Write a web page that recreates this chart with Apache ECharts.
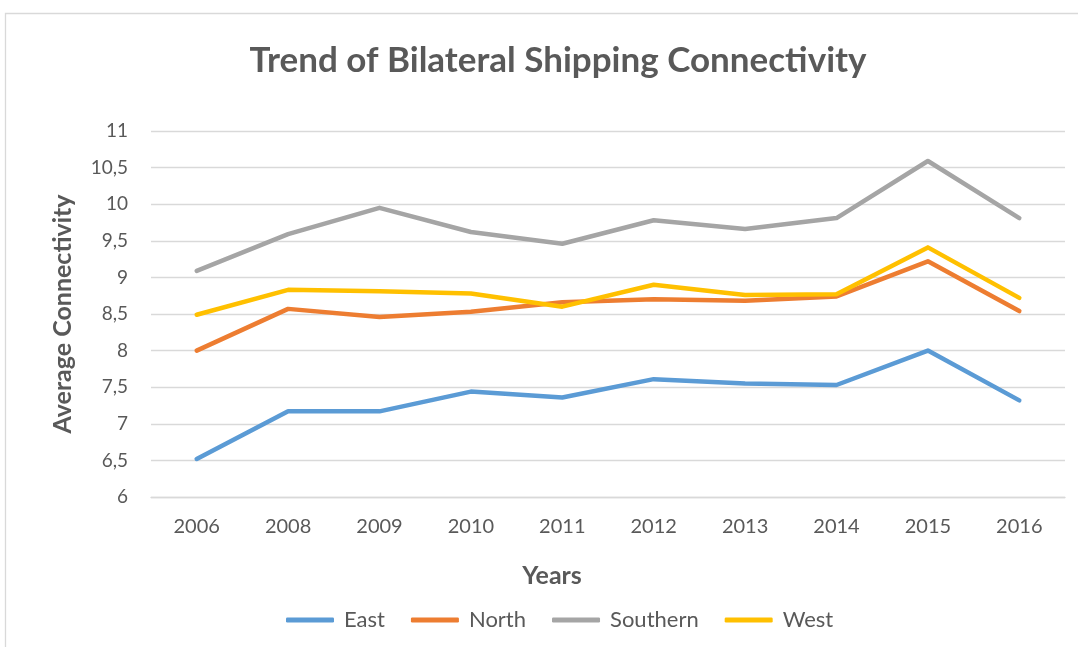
<!DOCTYPE html>
<html><head><meta charset="utf-8">
<script src="https://cdn.jsdelivr.net/npm/echarts@6/dist/echarts.min.js"></script>
<style>html,body{margin:0;padding:0;background:#fff}#c{width:1078px;height:647px}</style>
</head><body><div id="c"></div>
<script>
const years = ['2006','2008','2009','2010','2011','2012','2013','2014','2015','2016'];
const east = [6.52, 7.17, 7.17, 7.44, 7.36, 7.61, 7.55, 7.53, 8.0, 7.32];
const north = [8.0, 8.57, 8.46, 8.53, 8.66, 8.70, 8.68, 8.74, 9.22, 8.54];
const southern = [9.09, 9.59, 9.95, 9.62, 9.46, 9.78, 9.66, 9.81, 10.59, 9.81];
const west = [8.49, 8.83, 8.81, 8.78, 8.60, 8.90, 8.76, 8.77, 9.41, 8.72];
const seriesNames = ['East','North','Southern','West'];
const colors = ['#5B9BD5','#ED7D31','#A5A5A5','#FFC000'];
const FONT = 'Lato, "Open Sans", sans-serif';

const chart = echarts.init(document.getElementById('c'));
const mk = (name, data, color) => ({
  name, type: 'line', data, symbol: 'none', smooth: false,
  lineStyle: { width: 4.5, color, cap: 'round', join: 'round' },
  itemStyle: { color }
});
chart.setOption({
  animation: false,
  graphic: [{ type: 'rect', shape: { x: 5.5, y: 13.5, width: 1200, height: 800 },
    style: { fill: 'none', stroke: '#d9d9d9', lineWidth: 1.3 }, silent: true }],
  title: {
    text: 'Trend of Bilateral Shipping Connectivity', left: 553, textAlign: 'center', top: 38,
    textStyle: { fontFamily: FONT, fontSize: 35, fontWeight: 'bold', color: '#595959' }
  },
  legend: {
    data: seriesNames, top: 604, left: 281, itemWidth: 48, itemHeight: 5, itemGap: 26,
    icon: 'roundRect',
    textStyle: { fontFamily: FONT, fontSize: 22, color: '#595959', padding: [0,0,0,5] }
  },
  grid: { left: 151, right: 13, top: 131, bottom: 150 },
  xAxis: {
    type: 'category', data: years, boundaryGap: true,
    name: 'Years', nameLocation: 'middle', nameGap: 66,
    nameTextStyle: { fontFamily: FONT, fontSize: 25, fontWeight: 'bold', color: '#595959',
      padding: [0, 112, 0, 0] },
    axisLine: { show: true, lineStyle: { color: '#d9d9d9', width: 1.3 } },
    axisTick: { show: false },
    axisLabel: { fontFamily: FONT, fontSize: 20, color: '#595959', margin: 20 }
  },
  yAxis: {
    type: 'value', min: 6, max: 11, interval: 0.5,
    name: 'Average Connectivity', nameLocation: 'middle', nameGap: 76, nameRotate: 90,
    nameTextStyle: { fontFamily: FONT, fontSize: 25, fontWeight: 'bold', color: '#595959' },
    axisLine: { show: false }, axisTick: { show: false },
    splitLine: { lineStyle: { color: '#d9d9d9', width: 1.3 } },
    axisLabel: { fontFamily: FONT, fontSize: 19, color: '#595959', margin: 23,
      formatter: v => String(v).replace('.', ',') }
  },
  series: [mk('East', east, colors[0]), mk('North', north, colors[1]),
           mk('Southern', southern, colors[2]), mk('West', west, colors[3])]
});
</script></body></html>
